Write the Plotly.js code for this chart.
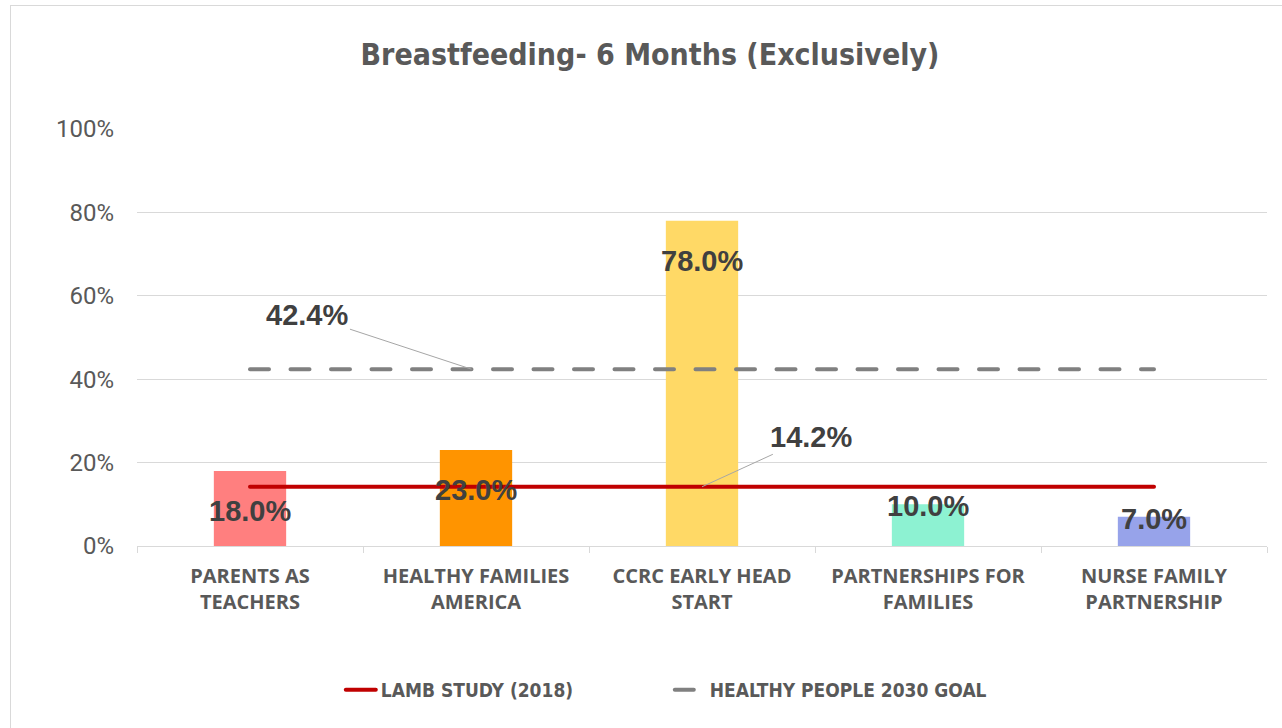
<!DOCTYPE html>
<html><head><meta charset="utf-8">
<script src="https://cdn.plot.ly/plotly-3.0.1.min.js"></script>
<style>
html,body{margin:0;padding:0;background:#fff;overflow:hidden}
#frame{position:absolute;left:10px;top:5px;width:1290px;height:740px;border:1px solid #d9d9d9;box-sizing:border-box}
#chart{position:absolute;left:0;top:0;width:1282px;height:728px}
#chart path.js-line{stroke-linecap:round !important}
</style></head>
<body><div id="frame"></div><div id="chart"></div>
<script>
const categories = ["PARENTS AS<br>TEACHERS","HEALTHY FAMILIES<br>AMERICA","CCRC EARLY HEAD<br>START","PARTNERSHIPS FOR<br>FAMILIES","NURSE FAMILY<br>PARTNERSHIP"];
const values = [18.0, 23.0, 78.0, 10.0, 7.0];
const barColors = ["#FF7F7F","#FF9400","#FFD966","#8DF2D2","#97A3EA"];
const lambValue = 14.2;
const goalValue = 42.4;
const lambName = "LAMB STUDY (2018)";
const goalName = "HEALTHY PEOPLE 2030 GOAL";
const titleText = "Breastfeeding- 6 Months (Exclusively)";

const narrow = "'Liberation Sans Narrow', 'Arial Narrow', 'DejaVu Sans Condensed', sans-serif";
const labelFont = {family:'Liberation Sans, Arial, sans-serif', size:29, color:'#404040', weight:'bold'};

const traces = [
  {type:'bar', x:categories, y:values, marker:{color:barColors}, width:0.32, showlegend:false, hoverinfo:'skip'},
  {type:'scatter', mode:'lines', name:lambName, x:categories, y:categories.map(()=>lambValue),
   line:{color:'#C00000', width:4}},
  {type:'scatter', mode:'lines', name:goalName, x:categories, y:categories.map(()=>goalValue),
   line:{color:'#808080', width:4, dash:'19px,21.5px'}}
];

const annotations = values.map((v,i)=>({
  x:i, y:(v>15 ? v-9.6 : v-0.5), xref:'x', yref:'y', text:v.toFixed(1)+'%', showarrow:false,
  font:labelFont
}));
annotations.push({x:0.98, y:goalValue, xref:'x', yref:'y', text:goalValue.toFixed(1)+'%', showarrow:true,
  arrowhead:0, arrowwidth:1, arrowcolor:'#A6A6A6', ax:-164, ay:-54, standoff:0, font:labelFont});
annotations.push({x:2, y:lambValue, xref:'x', yref:'y', text:lambValue.toFixed(1)+'%', showarrow:true,
  arrowhead:0, arrowwidth:1, arrowcolor:'#A6A6A6', ax:109, ay:-50, standoff:0, font:labelFont});

const layout = {
  width:1282, height:728,
  paper_bgcolor:'rgba(0,0,0,0)', plot_bgcolor:'rgba(0,0,0,0)',
  margin:{l:137, r:15, t:129, b:182},
  title:{text:titleText, x:0.507, xanchor:'center', y:0.925, yanchor:'middle',
    font:{family:narrow, size:30, color:'#595959', weight:'bold'}},
  xaxis:{type:'category', showgrid:false, showline:true, linecolor:'#d9d9d9', linewidth:1,
    ticks:'outside', tickson:'boundaries', ticklen:6, tickcolor:'#d9d9d9', ticklabelstandoff:12,
    tickfont:{family:'Open Sans, Liberation Sans, sans-serif', size:20, color:'#595959', weight:'bold'},
    range:[-0.5,4.5], fixedrange:true},
  yaxis:{range:[0,100], tickvals:[0,20,40,60,80,100], ticktext:['0%','20%','40%','60%','80%','100%'],
    gridcolor:'#d9d9d9', gridwidth:1, zeroline:false, showline:false, ticks:'', ticklen:0, ticklabelstandoff:22,
    tickfont:{family:'Roboto, Liberation Sans, Arial, sans-serif', size:24, color:'#595959'}, fixedrange:true},
  legend:{orientation:'h', x:0.4715, xanchor:'center', y:-0.345, yanchor:'middle', entrywidth:284, entrywidthmode:'pixels',
    font:{family:narrow, size:19, color:'#595959', weight:'bold'}, tracegroupgap:0},
  annotations:annotations,
  showlegend:true
};
Plotly.newPlot('chart', traces, layout, {displayModeBar:false, staticPlot:true});
</script></body></html>
